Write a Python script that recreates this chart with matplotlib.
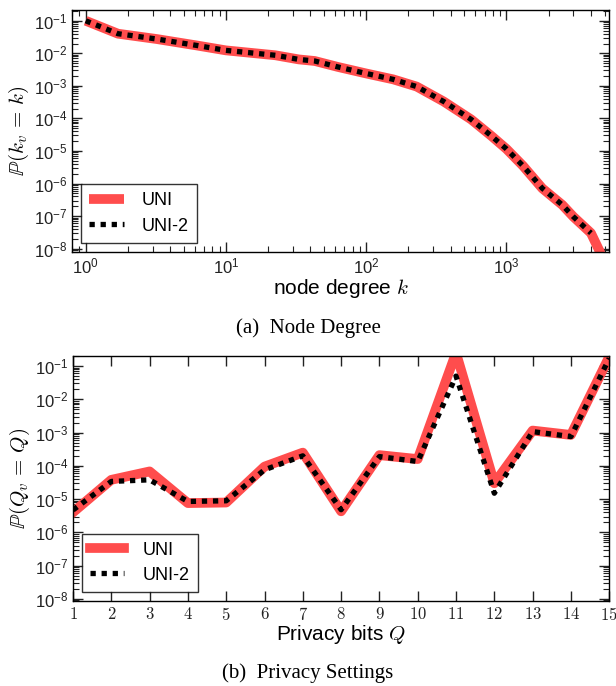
import numpy as np
import matplotlib
matplotlib.use('Agg')
import matplotlib.pyplot as plt
from matplotlib.ticker import LogLocator, NullFormatter

plt.rcParams['mathtext.fontset'] = 'cm'
plt.rcParams['font.family'] = 'Liberation Sans'

# degree distribution (log-log)
deg_k = [1, 1.7, 3.2, 6.2, 10, 22.5, 33, 43, 63, 100, 156, 229, 357, 560, 780,
         1000, 1310, 1800, 2500, 3000, 4000]
deg_uni = [0.1, 0.040, 0.0275, 0.0174, 0.0123, 0.0087, 0.0065, 0.0058, 0.0038,
           0.0024, 0.00158, 0.00095, 3.3e-4, 9.3e-5, 2.9e-5, 1.15e-5, 3.5e-6,
           7.1e-7, 2.2e-7, 9.5e-8, 3.0e-8]
deg_uni_end_k = 4700
deg_uni_end_p = 7.0e-9
deg_uni2 = deg_uni

# privacy bits distribution
q_bits = np.arange(1, 16)
q_uni = [4.0e-6, 3.8e-5, 6.8e-5, 7.6e-6, 7.9e-6, 9.5e-5, 2.5e-4, 4.3e-6, 2.1e-4,
         1.6e-4, 0.25, 3.0e-5, 1.15e-3, 8.5e-4, 0.19]
q_uni2 = [4.7e-6, 3.4e-5, 3.8e-5, 8.5e-6, 8.9e-6, 7.6e-5, 2.0e-4, 4.8e-6, 1.9e-4,
          1.35e-4, 0.05, 1.5e-5, 1.07e-3, 7.6e-4, 0.17]

red = '#ff4d4d'
tick_font = 12

fig = plt.figure(figsize=(6.16, 6.86), dpi=100)
ax1 = fig.add_axes([0.117, 0.633, 0.872, 0.353])
ax2 = fig.add_axes([0.1185, 0.124, 0.8705, 0.357])


def style_axis(ax):
    ax.tick_params(which='both', direction='in', top=True, right=True,
                   labelsize=tick_font, colors='#222222')
    ax.tick_params(which='major', length=7, width=1)
    ax.tick_params(which='minor', length=4, width=0.8)
    for s in ax.spines.values():
        s.set_linewidth(1.0)


def add_legend(ax):
    leg = ax.legend(loc='lower left', fontsize=13, frameon=True, fancybox=False,
                    edgecolor='black', handlelength=1.9, handletextpad=1.0,
                    borderpad=0.45, labelspacing=0.45,
                    bbox_to_anchor=(0.0, 0.0))
    leg.get_frame().set_linewidth(1.0)


# top: node degree
ax1.plot(list(deg_k) + [deg_uni_end_k], list(deg_uni) + [deg_uni_end_p],
         color=red, lw=7, solid_capstyle='butt', label='UNI')
ax1.plot(deg_k, deg_uni2, color='black', lw=3.8, linestyle=(0, (1, 1.1)),
         label='UNI-2')
ax1.set_xscale('log')
ax1.set_yscale('log')
ax1.set_xlim(0.8, 5400)
ax1.set_ylim(8e-9, 0.22)
ax1.yaxis.set_major_locator(LogLocator(base=10, numticks=20))
ax1.yaxis.set_minor_locator(LogLocator(base=10, subs=np.arange(2, 10), numticks=20))
ax1.yaxis.set_minor_formatter(NullFormatter())
style_axis(ax1)
ax1.set_xlabel('node degree $k$', fontsize=15, labelpad=0)
ax1.set_ylabel(r'$\mathbb{P}(k_v\,=\,k)$', fontsize=15, labelpad=2)
add_legend(ax1)
fig.text(0.5, 0.522, '(a)  Node Degree', ha='center', va='center',
         fontsize=15, family='Liberation Serif')

# bottom: privacy bits
ax2.plot(q_bits, q_uni, color=red, lw=7, label='UNI')
ax2.plot(q_bits, q_uni2, color='black', lw=3.8, linestyle=(0, (1, 1.1)),
         label='UNI-2')
ax2.set_yscale('log')
ax2.set_xlim(1, 15)
ax2.set_ylim(8.7e-9, 0.2)
ax2.set_xticks(q_bits)
ax2.set_xticklabels(['$%d$' % q for q in q_bits])
ax2.yaxis.set_major_locator(LogLocator(base=10, numticks=20))
ax2.yaxis.set_minor_locator(LogLocator(base=10, subs=np.arange(2, 10), numticks=20))
ax2.yaxis.set_minor_formatter(NullFormatter())
style_axis(ax2)
ax2.set_xlabel('Privacy bits $Q$', fontsize=15, labelpad=0)
ax2.set_ylabel(r'$\mathbb{P}(Q_v\,=\,Q)$', fontsize=15, labelpad=2)
add_legend(ax2)
fig.text(0.5, 0.019, '(b)  Privacy Settings', ha='center', va='center',
         fontsize=15, family='Liberation Serif')

fig.savefig('out.png', dpi=100)
